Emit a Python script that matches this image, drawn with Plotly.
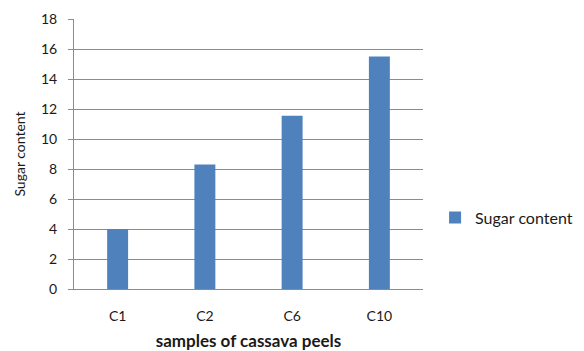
import plotly.graph_objects as go

categories = ["C1", "C2", "C6", "C10"]
sugar_content = [4.0, 8.3, 11.55, 15.5]
y_ticks = [0, 2, 4, 6, 8, 10, 12, 14, 16, 18]

FONT = "Lato, Carlito, 'Open Sans', sans-serif"

fig = go.Figure()
fig.add_trace(go.Bar(
    x=categories, y=sugar_content, name="Sugar content",
    marker=dict(color="#4F81BD", line=dict(width=0)),
    showlegend=True,
))

fig.update_layout(
    width=584, height=351,
    margin=dict(l=74, r=161, t=19, b=62, autoexpand=False),
    paper_bgcolor="white", plot_bgcolor="white",
    bargap=0.76,
    font=dict(family=FONT, size=14, color="#1a1a1a"),
    showlegend=True,
    legend=dict(xref="container", yref="container", x=0.745, y=0.38,
                xanchor="left", yanchor="middle",
                font=dict(size=16, color="#1a1a1a"), itemwidth=30,
                bgcolor="rgba(0,0,0,0)"),
    xaxis=dict(
        showline=True, linecolor="#8c8c8c", linewidth=1,
        ticks="", tickfont=dict(size=14), ticklabelstandoff=14,
        title=dict(text="<b>samples of cassava peels</b>", font=dict(size=17), standoff=12),
    ),
    yaxis=dict(
        range=[0, 18], tickvals=y_ticks, showgrid=True, gridcolor="#8c8c8c", gridwidth=1,
        showline=True, linecolor="#8c8c8c", linewidth=1,
        ticks="outside", ticklen=5, tickcolor="#8c8c8c",
        tickfont=dict(size=14), zeroline=False, ticklabelstandoff=8,
        title=dict(text="Sugar content", font=dict(size=14), standoff=12),
    ),
)

fig.write_html("out.html")
